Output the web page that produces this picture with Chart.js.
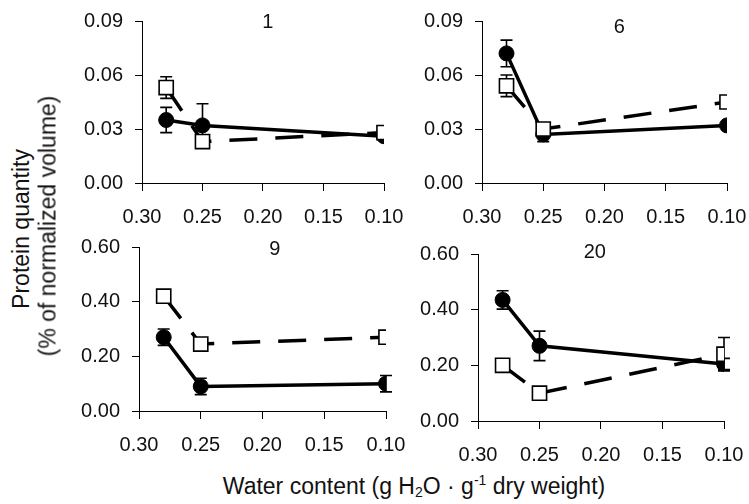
<!DOCTYPE html>
<html>
<head>
<meta charset="utf-8">
<script src="https://cdn.jsdelivr.net/npm/chart.js@4.4.1/dist/chart.umd.min.js"></script>
<style>
  html, body { margin: 0; padding: 0; background: #fff; }
  body { width: 749px; height: 504px; position: relative; overflow: hidden;
         font-family: "Liberation Sans", Arial, sans-serif; color: #111; }
  canvas { position: absolute; }
  .ytitle { position: absolute; white-space: nowrap; font-size: 23px; transform: translate(-50%, -50%) rotate(-90deg); }
  .xtitle { position: absolute; white-space: nowrap; font-size: 23px; transform: translateX(-50%); }
  sub, sup { font-size: 14px; }
  sub { vertical-align: -3px; }
  sup { vertical-align: 9px; line-height: 0; }
</style>
</head>
<body>
<canvas id="c1"></canvas>
<canvas id="c2"></canvas>
<canvas id="c3"></canvas>
<canvas id="c4"></canvas>
<div class="ytitle" style="left:21px; top:229px;">Protein quantity</div>
<div class="ytitle" style="left:48px; top:226px;">(% of normalized volume)</div>
<div class="xtitle" style="left:414px; top:473px;">Water content (g H<sub>2</sub>O · g<sup>-1</sup> dry weight)</div>
<script>
// ---- data ----
const waterContent = [0.28, 0.25, 0.10];
const xTickLabels = [0.30, 0.25, 0.20, 0.15, 0.10];
const yTicksSmall = [0.00, 0.03, 0.06, 0.09];
const yTicksLarge = [0.00, 0.20, 0.40, 0.60];
const panelTitles = ["1", "6", "9", "20"];

const p1Circle = [0.035, 0.032, 0.026];
const p1CircleErr = [0.007, 0.012, 0];
const p1Square = [0.053, 0.023, 0.028];
const p1SquareErr = [0.006, 0, 0];

const p6Circle = [0.072, 0.027, 0.032];
const p6CircleErr = [0.0074, 0.004, 0];
const p6Square = [0.054, 0.030, 0.045];
const p6SquareErr = [0.006, 0, 0];

const p9Circle = [0.27, 0.09, 0.10];
const p9CircleErr = [0.03, 0.03, 0.03];
const p9Square = [0.42, 0.245, 0.27];
const p9SquareErr = [0, 0, 0];

const p20Circle = [0.435, 0.27, 0.205];
const p20CircleErr = [0.033, 0.053, 0.02];
const p20Square = [0.20, 0.10, 0.24];
const p20SquareErr = [0, 0, 0.06];

// ---- layout (page pixels) ----
const FONT = '"Liberation Sans", Arial, sans-serif';
const panels = [
  { id: 'c1', canvas: [60, 0, 350, 240], area: [142, 21, 384, 183], yTicks: yTicksSmall,
    circle: p1Circle, circleErr: p1CircleErr, square: p1Square, squareErr: p1SquareErr, title: panelTitles[0], tpos: [0.52, 1] },
  { id: 'c2', canvas: [400, 0, 349, 240], area: [482, 21, 727, 183], yTicks: yTicksSmall,
    circle: p6Circle, circleErr: p6CircleErr, square: p6Square, squareErr: p6SquareErr, title: panelTitles[1], tpos: [0.56, 6] },
  { id: 'c3', canvas: [60, 225, 350, 245], area: [139, 247, 386, 411], yTicks: yTicksLarge,
    circle: p9Circle, circleErr: p9CircleErr, square: p9Square, squareErr: p9SquareErr, title: panelTitles[2], tpos: [0.55, 2] },
  { id: 'c4', canvas: [400, 225, 349, 245], area: [478, 254, 724, 421], yTicks: yTicksLarge,
    circle: p20Circle, circleErr: p20CircleErr, square: p20Square, squareErr: p20SquareErr, title: panelTitles[3], tpos: [0.475, -2] }
];

const errorBarPlugin = {
  id: 'errorBars',
  beforeDatasetsDraw(chart) {
    const ctx = chart.ctx, xs = chart.scales.x, ys = chart.scales.y;
    ctx.save();
    ctx.strokeStyle = '#000';
    ctx.lineWidth = 1.6;
    chart.data.datasets.forEach(ds => {
      ds.data.forEach((pt, i) => {
        const e = ds.errors[i];
        if (!e) return;
        const x = xs.getPixelForValue(pt.x);
        const y1 = ys.getPixelForValue(pt.y + e);
        const y2 = ys.getPixelForValue(pt.y - e);
        ctx.beginPath();
        ctx.moveTo(x, y1); ctx.lineTo(x, y2);
        ctx.moveTo(x - 6, y1); ctx.lineTo(x + 6, y1);
        ctx.moveTo(x - 6, y2); ctx.lineTo(x + 6, y2);
        ctx.stroke();
      });
    });
    ctx.restore();
  },
  afterDraw(chart) {
    const o = chart.options.plugins.panelTitle;
    const a = chart.chartArea, ctx = chart.ctx;
    ctx.save();
    ctx.fillStyle = '#111';
    ctx.font = '20px ' + FONT;
    ctx.textAlign = 'center';
    ctx.textBaseline = 'middle';
    ctx.fillText(o.text, a.left + o.pos[0] * (a.right - a.left), a.top + o.pos[1]);
    ctx.restore();
  }
};

panels.forEach(p => {
  const cv = document.getElementById(p.id);
  const [cx, cy, cw, ch] = p.canvas;
  const [L, T, R, B] = p.area;
  cv.style.left = cx + 'px'; cv.style.top = cy + 'px';
  cv.width = cw; cv.height = ch;
  cv.style.width = cw + 'px'; cv.style.height = ch + 'px';
  const toPts = arr => waterContent.map((x, i) => ({ x: x, y: arr[i] }));
  const yMax = p.yTicks[p.yTicks.length - 1];
  new Chart(cv, {
    type: 'scatter',
    data: {
      datasets: [
        { data: toPts(p.circle), errors: p.circleErr, showLine: true,
          borderColor: '#000', borderWidth: 3.5, backgroundColor: '#000',
          pointStyle: 'circle', pointRadius: 7.5, pointBorderWidth: 1, pointBackgroundColor: '#000', pointBorderColor: '#000',
          order: 1 },
        { data: toPts(p.square), errors: p.squareErr, showLine: true,
          borderColor: '#000', borderWidth: 3.5, borderDash: [28, 18],
          pointStyle: 'rect', pointRadius: 10, pointBorderWidth: 1.6, pointBackgroundColor: '#fff', pointBorderColor: '#000',
          order: 0 }
      ]
    },
    options: {
      responsive: false, animation: false, devicePixelRatio: 1,
      layout: { autoPadding: false, padding: { left: 0, top: T - cy, right: cx + cw - R, bottom: 0 } },
      plugins: { legend: { display: false }, tooltip: { enabled: false },
                 panelTitle: { text: p.title, pos: p.tpos } },
      scales: {
        x: {
          type: 'linear', min: 0.10, max: 0.30, reverse: true,
          afterBuildTicks: s => { s.ticks = xTickLabels.map(v => ({ value: v })); },
          afterFit: s => { s.height = cy + ch - B; s.paddingLeft = 0; s.paddingRight = 0; },
          grid: { display: true, drawOnChartArea: false, drawTicks: true, tickLength: 8, color: '#000', lineWidth: 1 },
          border: { display: true, color: '#000', width: 1 },
          ticks: { color: '#111', font: { family: FONT, size: 20 }, padding: 14, maxRotation: 0,
                   callback: v => Number(v).toFixed(2) }
        },
        y: {
          type: 'linear', min: 0, max: yMax,
          afterBuildTicks: s => { s.ticks = p.yTicks.map(v => ({ value: v })); },
          afterFit: s => { s.width = L - cx; s.paddingTop = 0; s.paddingBottom = 0; },
          grid: { display: true, drawOnChartArea: false, drawTicks: true, tickLength: 7, color: '#000', lineWidth: 1 },
          border: { display: true, color: '#000', width: 1 },
          ticks: { color: '#111', font: { family: FONT, size: 20 }, padding: 12,
                   callback: v => Number(v).toFixed(2) }
        }
      }
    },
    plugins: [errorBarPlugin]
  });
});
</script>
</body>
</html>
